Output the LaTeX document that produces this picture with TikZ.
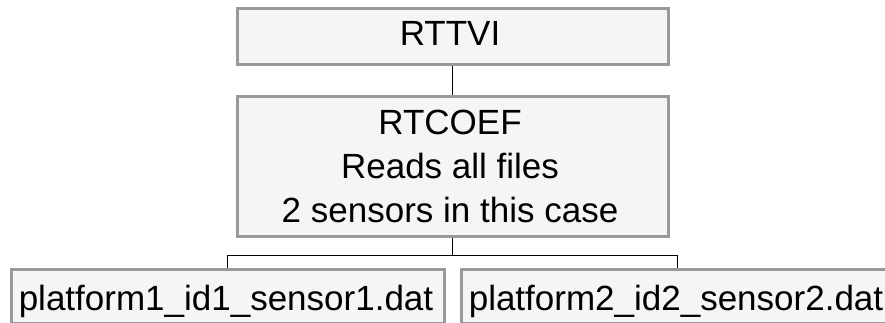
\documentclass[tikz,border=0pt]{standalone}
\usepackage{fontspec}
\setmainfont{Liberation Sans}
\usetikzlibrary{backgrounds}
\definecolor{boxgray}{HTML}{9A9A9A}
\definecolor{boxfill}{HTML}{F5F5F5}
\begin{document}
\begin{tikzpicture}[x=1pt,y=-1pt,
  box/.style={draw=boxgray, fill=boxfill, line width=3pt, inner sep=0pt, anchor=north west},
  lbl/.style={font=\fontsize{35}{44}\selectfont, inner sep=0pt, align=center},
  conn/.style={draw=black, line width=1pt}]
\useasboundingbox (0,0) rectangle (885,323);
\node[box, minimum width=430.5pt, minimum height=55.8pt] (b1) at (236,7.5) {};
\node[box, minimum width=430.5pt, minimum height=139.7pt] (b2) at (236,95.3) {};
\node[box, minimum width=432.5pt, minimum height=54pt] (b3) at (10,267.5) {};
\node[box, minimum width=432.5pt, minimum height=54pt] (b4) at (460,267.5) {};
\node[lbl, anchor=base] (t1) at (450,46) {RTTVI};
\node[lbl, anchor=center] (t2) at (450,166) {RTCOEF\\Reads all files\\2 sensors in this case};
\node[lbl, anchor=base] (t3) at (226,310) {platform1\_id1\_sensor1.dat};
\node[lbl, anchor=base] (t4) at (676,310) {platform2\_id2\_sensor2.dat};
\begin{scope}[on background layer]
\draw[conn] (b1.south) -- (b2.north);
\draw[conn] (b2.south) -- ++(0,17.5) coordinate (j);
\draw[conn] (b3.north) |- (j) -| (b4.north);
\end{scope}
\end{tikzpicture}
\end{document}
